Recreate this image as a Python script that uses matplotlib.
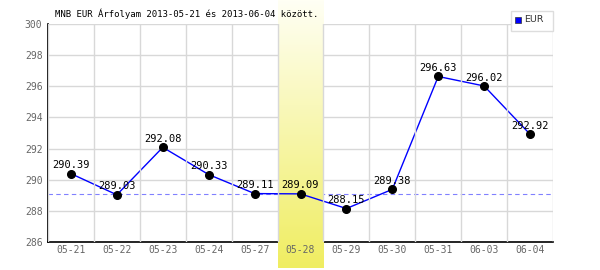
import numpy as np
import matplotlib
matplotlib.use("Agg")
import matplotlib.pyplot as plt
from matplotlib.transforms import blended_transform_factory

dates = ["05-21", "05-22", "05-23", "05-24", "05-27", "05-28",
         "05-29", "05-30", "05-31", "06-03", "06-04"]
rates = [290.39, 289.03, 292.08, 290.33, 289.11, 289.09,
         288.15, 289.38, 296.63, 296.02, 292.92]
highlight = 5  # 05-28
ref_level = 289.09
title = "MNB EUR Árfolyam 2013-05-21 és 2013-06-04 között."

mono = "DejaVu Sans Mono"

fig = plt.figure(figsize=(6, 2.7), dpi=100)
ax = fig.add_axes([48 / 600, 28 / 270, 505 / 600, 218 / 270])
x = np.arange(len(dates))

ax.set_xticks(x)
ax.set_xticklabels(dates)
ax.set_xticks(np.arange(-0.5, len(dates), 1), minor=True)
ax.set_yticks(range(286, 301, 2))
ax.grid(True, which="minor", axis="x", color="#d8d8d8", lw=1)
ax.grid(True, which="major", axis="y", color="#d8d8d8", lw=1)
ax.tick_params(which="both", length=0, colors="#666666", labelsize=7)
ax.tick_params(axis="x", pad=2.5)
ax.tick_params(axis="y", pad=4)
for lab in ax.get_xticklabels() + ax.get_yticklabels():
    lab.set_fontfamily(mono)
for s in ["top", "right"]:
    ax.spines[s].set_visible(False)
for s in ["left", "bottom"]:
    ax.spines[s].set_color("black")
    ax.spines[s].set_linewidth(1.2)
ax.spines["bottom"].set_zorder(1)
ax.yaxis.set_zorder(0.5)
ax.xaxis.set_zorder(3)

ax.axhline(ref_level, color="#8080ff", lw=0.8, ls=(0, (4, 3)), zorder=1)

# highlight band (gradient over full figure height)
grad = np.linspace(0, 1, 256)
top = np.array([1.0, 1.0, 0.96])
bot = np.array([0.94, 0.93, 0.38])
img = (top + (bot - top) * grad[:, None]).reshape(256, 1, 3)
tr = blended_transform_factory(ax.transData, fig.transFigure)
ax.imshow(img, extent=[highlight - 0.5, highlight + 0.5, 0.008, 1], origin="upper",
          transform=tr, aspect="auto", clip_on=False, zorder=2)
ax.set_xlim(-0.5, len(dates) - 0.5)
ax.set_ylim(286, 300)

ax.plot(x, rates, color="#0000ff", lw=1, zorder=3)
ax.plot(x, rates, "o", color="black", ms=5.5, zorder=4)
for xi, v in zip(x, rates):
    ax.annotate(f"{v:.2f}", (xi, v), xytext=(0, 2.5), textcoords="offset points",
                ha="center", va="bottom", fontsize=7.5, family=mono, zorder=5)

fig.text(55 / 600, 1 - 14 / 270, title, fontsize=6.5, family=mono, va="center", ha="left")

# legend
fig.patches.append(plt.Rectangle((511 / 600, 1 - 31 / 270), 42 / 600, 20 / 270,
                                 transform=fig.transFigure, facecolor="white",
                                 edgecolor="#dddddd", lw=1, zorder=5))
fig.patches.append(plt.Rectangle((515 / 600, 1 - 23 / 270), 6 / 600, 6 / 270,
                                 transform=fig.transFigure, facecolor="#0000ff",
                                 edgecolor="#333333", lw=0.5, zorder=6))
fig.text(524 / 600, 1 - 20 / 270, "EUR", fontsize=6.8, color="#333333", va="center",
         ha="left", zorder=7)

fig.savefig("out.png", dpi=100)
